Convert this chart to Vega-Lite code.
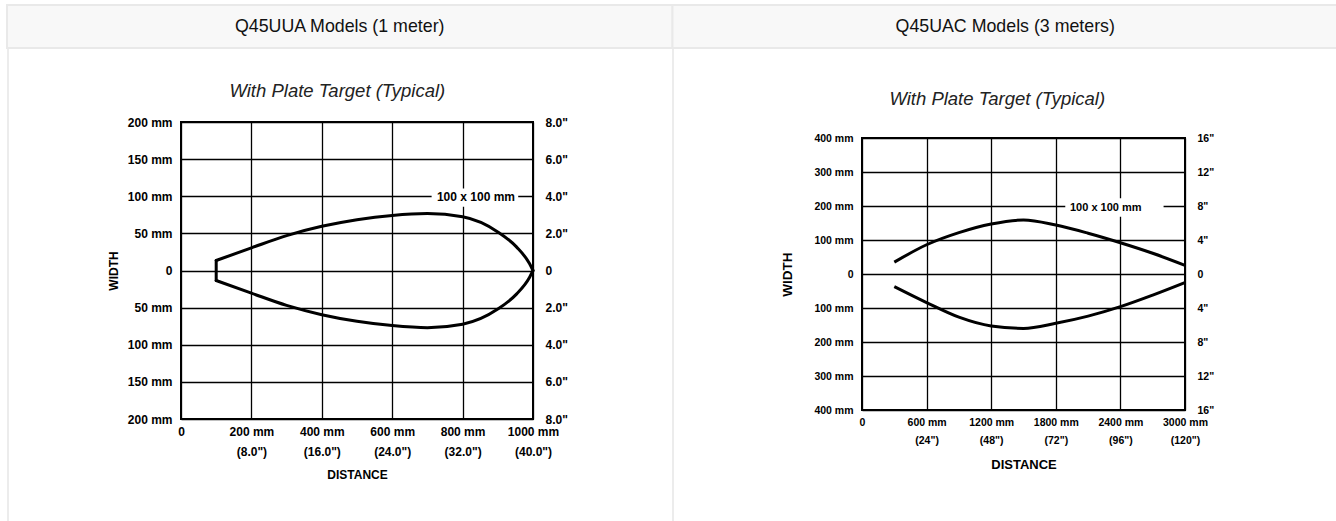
{
  "$schema": "https://vega.github.io/schema/vega-lite/v6.json",
  "background": "white",
  "padding": {"left": 6, "top": 4, "right": 0, "bottom": 0},
  "config": {"view": {"stroke": null}},
  "datasets": {
    "headers": [{"header": "Q45UUA Models (1 meter)"}, {"header": "Q45UAC Models (3 meters)"}],
    "left_curve": [
      {"part": "end", "d": 100, "w": -13.5},
      {"part": "end", "d": 100, "w": 13.5},
      {"part": "upper", "d": 100, "w": 13.5},
      {"part": "upper", "d": 200, "w": 30.5},
      {"part": "upper", "d": 300, "w": 47},
      {"part": "upper", "d": 400, "w": 59.5},
      {"part": "upper", "d": 500, "w": 68.4},
      {"part": "upper", "d": 600, "w": 74.2},
      {"part": "upper", "d": 700, "w": 76.7},
      {"part": "upper", "d": 800, "w": 72.4},
      {"part": "upper", "d": 900, "w": 52},
      {"part": "upper", "d": 953, "w": 31.8},
      {"part": "upper", "d": 990, "w": 9.4},
      {"part": "upper", "d": 1000, "w": 0},
      {"part": "lower", "d": 100, "w": -13.5},
      {"part": "lower", "d": 200, "w": -30.5},
      {"part": "lower", "d": 300, "w": -47},
      {"part": "lower", "d": 400, "w": -59.5},
      {"part": "lower", "d": 500, "w": -68.4},
      {"part": "lower", "d": 600, "w": -74.2},
      {"part": "lower", "d": 700, "w": -77},
      {"part": "lower", "d": 800, "w": -72.4},
      {"part": "lower", "d": 900, "w": -52},
      {"part": "lower", "d": 953, "w": -31.8},
      {"part": "lower", "d": 990, "w": -9.4},
      {"part": "lower", "d": 1000, "w": 0}
    ],
    "right_curve": [
      {"part": "upper", "d": 300, "w": 35},
      {"part": "upper", "d": 600, "w": 86},
      {"part": "upper", "d": 900, "w": 121.6},
      {"part": "upper", "d": 1200, "w": 147},
      {"part": "upper", "d": 1500, "w": 159},
      {"part": "upper", "d": 1800, "w": 144},
      {"part": "upper", "d": 2100, "w": 120},
      {"part": "upper", "d": 2400, "w": 92},
      {"part": "upper", "d": 2700, "w": 61},
      {"part": "upper", "d": 3000, "w": 25.5},
      {"part": "lower", "d": 300, "w": -37},
      {"part": "lower", "d": 600, "w": -84},
      {"part": "lower", "d": 900, "w": -127},
      {"part": "lower", "d": 1200, "w": -153},
      {"part": "lower", "d": 1500, "w": -160},
      {"part": "lower", "d": 1800, "w": -145},
      {"part": "lower", "d": 2100, "w": -124},
      {"part": "lower", "d": 2400, "w": -96},
      {"part": "lower", "d": 2700, "w": -62},
      {"part": "lower", "d": 3000, "w": -25}
    ],
    "left_label": [{"label": "100 x 100 mm", "d": 838, "w": 99, "d1": 712, "d2": 958, "w1": 85.7, "w2": 110.5}],
    "right_label": [{"label": "100 x 100 mm", "d": 2264, "w": 195, "d1": 1888, "d2": 2801, "w1": 168.6, "w2": 222.6}]
  },
  "vconcat": [
    {
      "width": 1331, "height": 43,
      "data": {"name": "headers"},
      "layer": [
        {
          "mark": {"type": "rect", "fill": "#f8f8f8", "stroke": "#e9e9e9", "strokeWidth": 2},
          "encoding": {"x": {"field": "header", "type": "nominal", "sort": null, "scale": {"paddingInner": 0, "paddingOuter": 0}, "axis": null}}
        },
        {
          "mark": {"type": "text", "font": "Liberation Sans", "fontSize": 17.8, "color": "#111", "baseline": "middle", "align": "center"},
          "encoding": {"x": {"field": "header", "type": "nominal", "sort": null, "axis": null}, "text": {"field": "header"}}
        }
      ]
    },
    {
      "hconcat": [
        {
          "concat": [
            {"width": 2, "height": 73, "data": {"values": []}, "mark": {"type": "point", "opacity": 0}, "encoding": {}, "view": {"stroke": null, "fill": "#ececec"}},
            {"width": 172, "height": 73, "data": {"values": []}, "mark": {"type": "point", "opacity": 0}, "encoding": {}, "view": {"stroke": null}},
            {"width": 352, "height": 73, "data": {"values": []}, "mark": {"type": "point", "opacity": 0}, "encoding": {}, "view": {"stroke": null}},
            {"width": 139, "height": 73, "data": {"values": []}, "mark": {"type": "point", "opacity": 0}, "encoding": {}, "view": {"stroke": null}},
            {"width": 2, "height": 400, "data": {"values": []}, "mark": {"type": "point", "opacity": 0}, "encoding": {}, "view": {"stroke": null, "fill": "#ececec"}},
            {"width": 172, "height": 1, "data": {"values": []}, "mark": {"type": "point", "opacity": 0}, "encoding": {}, "view": {"stroke": null}},
            {
              "width": 352, "height": 297,
              "view": {"stroke": "#000", "strokeWidth": 2},
              "title": {"text": "With Plate Target (Typical)", "font": "Liberation Sans", "fontSize": 18.5, "fontStyle": "italic", "fontWeight": "normal", "color": "#222", "offset": 16, "anchor": "middle", "frame": "bounds"},
              "layer": [
                {
                  "data": {"name": "left_label"},
                  "mark": {"type": "rect", "fill": "white", "stroke": null},
                  "encoding": {
                    "x": {"field": "d1", "type": "quantitative", "scale": {"domain": [0, 1000], "nice": false, "zero": false}},
                    "x2": {"field": "d2"},
                    "y": {"field": "w1", "type": "quantitative", "scale": {"domain": [-200, 200], "nice": false},
                      "axis": {"orient": "right", "title": null, "values": [-200, -150, -100, -50, 0, 50, 100, 150, 200], "grid": false, "ticks": false, "tickSize": 0, "domain": false, "labelPadding": 12, "labelFont": "Liberation Sans", "labelFontSize": 12, "labelFontWeight": "bold", "labelColor": "#000", "labelFlush": false, "labelOverlap": false,
                        "labelExpr": "datum.value == 0 ? '0' : format(abs(datum.value)/25, '.1f') + '\"'"}},
                    "y2": {"field": "w2"}
                  }
                },
                {
                  "data": {"name": "left_curve"},
                  "mark": {"type": "line", "color": "#000", "strokeWidth": 3, "interpolate": "monotone", "strokeCap": "round", "strokeJoin": "round"},
                  "encoding": {
                    "x": {"field": "d", "type": "quantitative", "scale": {"domain": [0, 1000], "nice": false, "zero": false},
                      "axis": {"title": "DISTANCE", "values": [0, 100, 200, 300, 400, 500, 600, 700, 800, 900, 1000], "grid": true, "gridColor": "#000", "gridWidth": 1.3, "gridOpacity": 1, "ticks": false, "tickSize": 0, "domain": false, "labelPadding": 7.5, "labelFont": "Liberation Sans", "labelFontSize": 12, "labelFontWeight": "bold", "labelColor": "#000", "labelFlush": false, "labelOverlap": false, "labelLineHeight": 19.5,
                        "labelExpr": "datum.value == 0 ? '0' : (datum.value % 200 == 0 ? [datum.value + ' mm', '(' + format(datum.value/25, '.1f') + '\")'] : '')",
                        "titleFont": "Liberation Sans", "titleFontSize": 12, "titleFontWeight": "bold", "titleColor": "#000", "titlePadding": 12}},
                    "y": {"field": "w", "type": "quantitative", "scale": {"domain": [-200, 200], "nice": false},
                      "axis": {"orient": "left", "title": "WIDTH", "values": [-200, -150, -100, -50, 0, 50, 100, 150, 200], "grid": true, "gridColor": "#000", "gridWidth": 1.3, "gridOpacity": 1, "ticks": false, "tickSize": 0, "domain": false, "labelPadding": 9, "labelFont": "Liberation Sans", "labelFontSize": 12, "labelFontWeight": "bold", "labelColor": "#000", "labelFlush": false, "labelOverlap": false,
                        "labelExpr": "datum.value == 0 ? '0' : abs(datum.value) + ' mm'",
                        "titleFont": "Liberation Sans", "titleFontSize": 12, "titleFontWeight": "bold", "titleColor": "#000", "titlePadding": 7}},
                    "detail": {"field": "part"}
                  }
                },
                {
                  "data": {"name": "left_label"},
                  "mark": {"type": "text", "font": "Liberation Sans", "fontSize": 12, "fontWeight": "bold", "color": "#000", "baseline": "middle", "align": "center"},
                  "encoding": {
                    "x": {"field": "d", "type": "quantitative"},
                    "y": {"field": "w", "type": "quantitative", "axis": null},
                    "text": {"field": "label"}
                  }
                }
              ],
              "resolve": {"axis": {"y": "independent"}}
            },
            {"width": 139, "height": 1, "data": {"values": []}, "mark": {"type": "point", "opacity": 0}, "encoding": {}, "view": {"stroke": null}}
          ],
          "columns": 4,
          "align": "none",
          "bounds": "flush",
          "spacing": 0
        },
        {
          "concat": [
            {"width": 2, "height": 89, "data": {"values": []}, "mark": {"type": "point", "opacity": 0}, "encoding": {}, "view": {"stroke": null, "fill": "#ececec"}},
            {"width": 188, "height": 89, "data": {"values": []}, "mark": {"type": "point", "opacity": 0}, "encoding": {}, "view": {"stroke": null}},
            {"width": 323, "height": 89, "data": {"values": []}, "mark": {"type": "point", "opacity": 0}, "encoding": {}, "view": {"stroke": null}},
            {"width": 2, "height": 384, "data": {"values": []}, "mark": {"type": "point", "opacity": 0}, "encoding": {}, "view": {"stroke": null, "fill": "#ececec"}},
            {"width": 188, "height": 1, "data": {"values": []}, "mark": {"type": "point", "opacity": 0}, "encoding": {}, "view": {"stroke": null}},
            {
              "width": 323, "height": 272,
              "view": {"stroke": "#000", "strokeWidth": 2},
              "title": {"text": "With Plate Target (Typical)", "font": "Liberation Sans", "fontSize": 18.5, "fontStyle": "italic", "fontWeight": "normal", "color": "#222", "offset": 25, "anchor": "middle", "frame": "bounds"},
              "layer": [
                {
                  "data": {"name": "right_label"},
                  "mark": {"type": "rect", "fill": "white", "stroke": null},
                  "encoding": {
                    "x": {"field": "d1", "type": "quantitative", "scale": {"domain": [0, 3000], "nice": false, "zero": false}},
                    "x2": {"field": "d2"},
                    "y": {"field": "w1", "type": "quantitative", "scale": {"domain": [-400, 400], "nice": false},
                      "axis": {"orient": "right", "title": null, "values": [-400, -300, -200, -100, 0, 100, 200, 300, 400], "grid": false, "ticks": false, "tickSize": 0, "domain": false, "labelPadding": 12, "labelFont": "Liberation Sans", "labelFontSize": 10.5, "labelFontWeight": "bold", "labelColor": "#000", "labelFlush": false, "labelOverlap": false,
                        "labelExpr": "datum.value == 0 ? '0' : abs(datum.value)/25 + '\"'"}},
                    "y2": {"field": "w2"}
                  }
                },
                {
                  "data": {"name": "right_curve"},
                  "mark": {"type": "line", "color": "#000", "strokeWidth": 3, "interpolate": "monotone", "strokeCap": "butt"},
                  "encoding": {
                    "x": {"field": "d", "type": "quantitative", "scale": {"domain": [0, 3000], "nice": false, "zero": false},
                      "axis": {"title": "DISTANCE", "values": [0, 300, 600, 900, 1200, 1500, 1800, 2100, 2400, 2700, 3000], "grid": true, "gridColor": "#000", "gridWidth": 1.3, "gridOpacity": 1, "ticks": false, "tickSize": 0, "domain": false, "labelPadding": 7, "labelFont": "Liberation Sans", "labelFontSize": 10.5, "labelFontWeight": "bold", "labelColor": "#000", "labelFlush": false, "labelOverlap": false, "labelLineHeight": 18,
                        "labelExpr": "datum.value == 0 ? '0' : (datum.value % 600 == 0 ? [datum.value + ' mm', '(' + (datum.value/25) + '\")'] : '')",
                        "titleFont": "Liberation Sans", "titleFontSize": 13, "titleFontWeight": "bold", "titleColor": "#000", "titlePadding": 13}},
                    "y": {"field": "w", "type": "quantitative", "scale": {"domain": [-400, 400], "nice": false},
                      "axis": {"orient": "left", "title": "WIDTH", "values": [-400, -300, -200, -100, 0, 100, 200, 300, 400], "grid": true, "gridColor": "#000", "gridWidth": 1.3, "gridOpacity": 1, "ticks": false, "tickSize": 0, "domain": false, "labelPadding": 9, "labelFont": "Liberation Sans", "labelFontSize": 10.5, "labelFontWeight": "bold", "labelColor": "#000", "labelFlush": false, "labelOverlap": false,
                        "labelExpr": "datum.value == 0 ? '0' : abs(datum.value) + ' mm'",
                        "titleFont": "Liberation Sans", "titleFontSize": 13.5, "titleFontWeight": "bold", "titleColor": "#000", "titlePadding": 19}},
                    "detail": {"field": "part"}
                  }
                },
                {
                  "data": {"name": "right_label"},
                  "mark": {"type": "text", "font": "Liberation Sans", "fontSize": 11, "fontWeight": "bold", "color": "#000", "baseline": "middle", "align": "center"},
                  "encoding": {
                    "x": {"field": "d", "type": "quantitative"},
                    "y": {"field": "w", "type": "quantitative", "axis": null},
                    "text": {"field": "label"}
                  }
                }
              ],
              "resolve": {"axis": {"y": "independent"}}
            }
          ],
          "columns": 3,
          "align": "none",
          "bounds": "flush",
          "spacing": 0
        }
      ],
      "spacing": 0
    }
  ],
  "spacing": 0
}
